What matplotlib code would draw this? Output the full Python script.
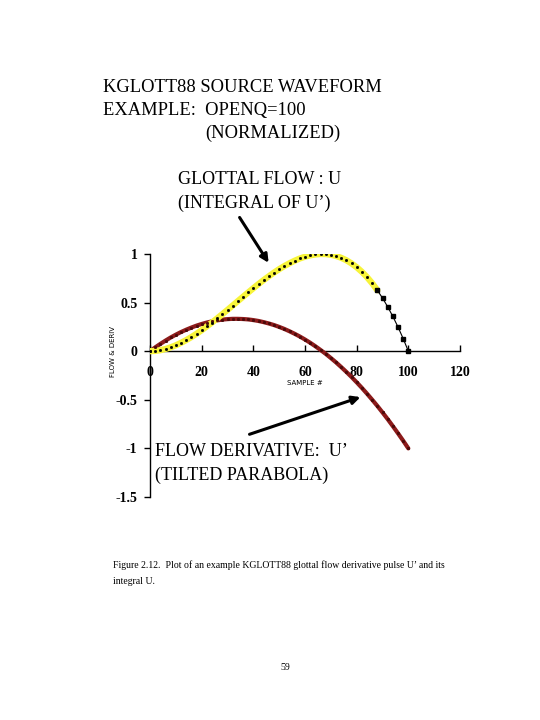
import matplotlib

matplotlib.use("Agg")

import matplotlib.pyplot as plt
import numpy as np

plt.rcParams["font.family"] = ["Liberation Serif", "DejaVu Serif"]

# samples (every 2nd sample)
SAMPLES = list(range(0, 101, 2))
FLOW = [
    0.000, 0.003, 0.010, 0.023, 0.040, 0.061, 0.086, 0.114, 0.145, 0.179,
    0.216, 0.255, 0.295, 0.338, 0.381, 0.425, 0.470, 0.515, 0.560, 0.604,
    0.648, 0.691, 0.732, 0.771, 0.809, 0.844, 0.876, 0.905, 0.931, 0.954,
    0.972, 0.986, 0.995, 1.000, 0.999, 0.992, 0.980, 0.961, 0.936, 0.903,
    0.864, 0.817, 0.762, 0.699, 0.627, 0.547, 0.457, 0.358, 0.249, 0.130,
    0.000,
]
DERIV = [
    0.000, 0.039, 0.075, 0.109, 0.141, 0.170, 0.197, 0.221, 0.243, 0.263,
    0.280, 0.295, 0.307, 0.317, 0.325, 0.330, 0.333, 0.333, 0.331, 0.327,
    0.320, 0.311, 0.299, 0.285, 0.269, 0.250, 0.229, 0.205, 0.179, 0.151,
    0.120, 0.087, 0.051, 0.013, -0.027, -0.070, -0.115, -0.163, -0.213, -0.265,
    -0.320, -0.377, -0.437, -0.499, -0.563, -0.630, -0.699, -0.771, -0.845, -0.921,
    -1.000,
]
X_TICKS = [0, 20, 40, 60, 80, 100, 120]
Y_TICKS = [-1.5, -1, -0.5, 0, 0.5, 1]
Y_TICK_LABELS = ["-1.5", "-1", "-0.5", "0", "0.5", "1"]
YELLOW_END = 88


def fx(px):
    return px / 540


def fy(py):
    return 1 - py / 720


fig = plt.figure(figsize=(5.4, 7.2), dpi=100)
fig.patch.set_facecolor("white")
ax = fig.add_axes([fx(150), fy(497), fx(310), 243 / 720])

x = np.array(SAMPLES)
flow = np.array(FLOW)
deriv = np.array(DERIV)
glow = x <= YELLOW_END
tail = x >= YELLOW_END

# flow derivative U'
ax.plot(x, deriv, color="#8b1a1a", lw=3.0, solid_capstyle="round", zorder=3)
ax.plot(x, deriv, ls="none", marker="s", ms=1.1, color="#4a0a0a", zorder=4)

# glottal flow U
ax.plot(x[glow], flow[glow], color="#f7f43a", lw=4.5, solid_capstyle="round", zorder=3)
ax.plot(x[glow], flow[glow], ls="none", marker="s", ms=1.0, color="black", zorder=4)
ax.plot(x[tail], flow[tail], color="black", lw=0.8, marker="s", ms=3.0, zorder=4)

ax.set_xlim(0, 120)
ax.set_ylim(-1.5, 1)
ax.spines["top"].set_visible(False)
ax.spines["right"].set_visible(False)
ax.spines["bottom"].set_position(("data", 0))
ax.spines["left"].set_position(("data", 0))
for side in ("bottom", "left"):
    ax.spines[side].set_linewidth(1.0)

ax.set_xticks(X_TICKS)
ax.set_xticklabels([str(t) for t in X_TICKS], fontsize=10, fontweight="bold")
ax.set_yticks(Y_TICKS)
ax.set_yticklabels(Y_TICK_LABELS, fontsize=10, fontweight="bold")
ax.tick_params(axis="x", direction="in", length=4, width=1, pad=11)
ax.tick_params(axis="y", direction="out", length=4, width=1, pad=5)

ax.text(60, -0.33, "SAMPLE #", fontsize=5, family="DejaVu Sans", ha="center", va="center")
fig.text(fx(113), fy(351), "FLOW & DERIV", fontsize=5, family="DejaVu Sans",
         rotation=90, ha="center", va="center")

ax.annotate("", xy=(46.5, 0.885), xytext=(34.1, 1.40), annotation_clip=False,
            arrowprops=dict(arrowstyle="-|>", lw=2.2, color="black", mutation_scale=12))
ax.annotate("", xy=(82.5, -0.463), xytext=(37.5, -0.864), annotation_clip=False,
            arrowprops=dict(arrowstyle="-|>", lw=2.2, color="black", mutation_scale=12))

fig.text(fx(103), fy(88), "KGLOTT88 SOURCE WAVEFORM", fontsize=13.3, va="center")
fig.text(fx(103), fy(111), "EXAMPLE:  OPENQ=100", fontsize=13.3, va="center")
fig.text(fx(205), fy(133), "(NORMALIZED)", fontsize=13.3, va="center")

fig.text(fx(178), fy(180), "GLOTTAL FLOW : U", fontsize=13, va="center")
fig.text(fx(178), fy(203), "(INTEGRAL OF U\u2019)", fontsize=13, va="center")

fig.text(fx(155), fy(452), "FLOW DERIVATIVE:  U\u2019", fontsize=13, va="center")
fig.text(fx(155), fy(475), "(TILTED PARABOLA)", fontsize=13, va="center")

fig.text(fx(113), fy(565),
         "Figure 2.12.  Plot of an example KGLOTT88 glottal flow derivative pulse U\u2019 and its",
         fontsize=7.0, va="center")
fig.text(fx(113), fy(582), "integral U.", fontsize=7.0, va="center")
fig.text(fx(285), fy(668), "59", fontsize=7.0, ha="center", va="center")

fig.savefig("out.png", dpi=100, facecolor="white")
